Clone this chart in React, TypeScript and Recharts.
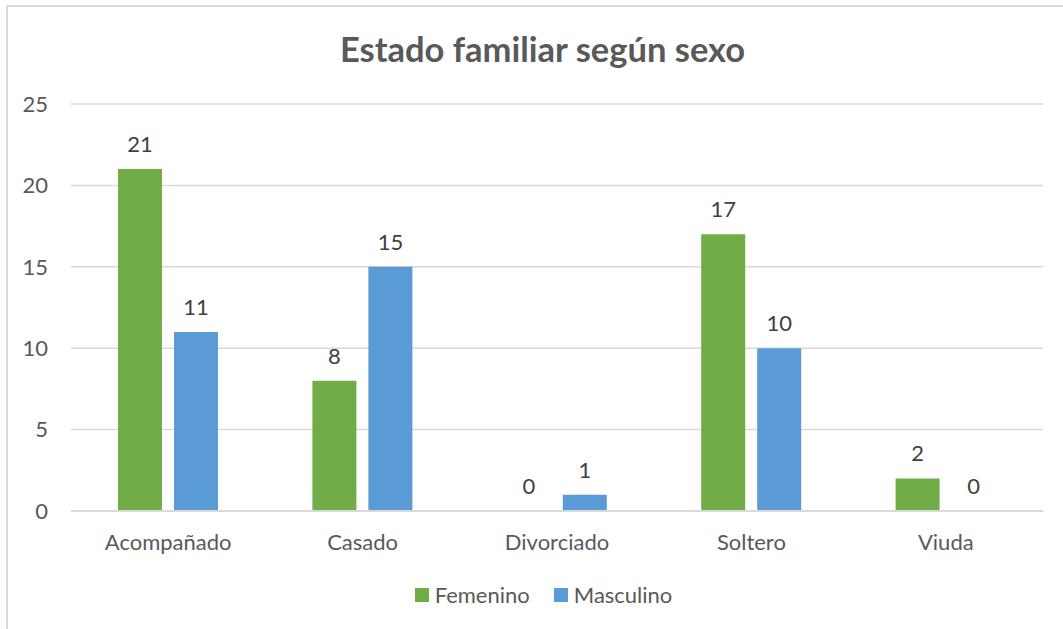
import { BarChart, Bar, XAxis, YAxis, CartesianGrid, Legend, LabelList } from "recharts";

const categories = ["Acompañado", "Casado", "Divorciado", "Soltero", "Viuda"];
const femenino = [21, 8, 0, 17, 2];
const masculino = [11, 15, 1, 10, 0];
const yTicks = [0, 5, 10, 15, 20, 25];

const data = categories.map((estado, i) => ({
  estado,
  femenino: femenino[i],
  masculino: masculino[i],
}));

const FONT = "Lato, 'Open Sans', sans-serif";
const TEXT = "#595959";
const GREEN = "#70AD47";
const BLUE = "#5B9BD5";

function CustomLegend({ payload }: any) {
  return (
    <div style={{ display: "flex", justifyContent: "center", gap: 24, fontFamily: FONT, fontSize: 22, color: TEXT }}>
      {payload?.map((p: any) => (
        <div key={p.value} style={{ display: "flex", alignItems: "center", gap: 6 }}>
          <span style={{ display: "inline-block", width: 14, height: 14, backgroundColor: p.color }} />
          {p.value === "femenino" ? "Femenino" : "Masculino"}
        </div>
      ))}
    </div>
  );
}

export default function App() {
  return (
    <div style={{ position: "absolute", left: 0, top: 0, width: 1063, height: 629, overflow: "hidden", background: "#fff" }}>
      <div
        style={{
          position: "absolute", left: 6, top: 5, width: 1100, height: 700,
          border: "2px solid #d9d9d9", boxSizing: "border-box",
        }}
      />
      <div
        style={{
          position: "absolute", left: 0, top: 28, width: 1085, textAlign: "center",
          fontFamily: FONT, fontWeight: 700, fontSize: 34.5, color: TEXT,
        }}
      >
        Estado familiar según sexo
      </div>
      <div style={{ position: "absolute", left: 0, top: 0 }}>
        <BarChart
          width={1063}
          height={629}
          data={data}
          margin={{ top: 104, right: 20, left: 11, bottom: 78 }}
          barGap={12}
          barSize={44}
        >
          <CartesianGrid vertical={false} stroke="#d9d9d9" strokeWidth={1.5} />
          <XAxis
            dataKey="estado"
            height={40}
            axisLine={{ stroke: "#d9d9d9", strokeWidth: 2 }}
            tickLine={false}
            tickMargin={17}
            tick={{ fontSize: 22, fill: TEXT, fontFamily: FONT }}
          />
          <YAxis
            width={60}
            domain={[0, 25]}
            ticks={yTicks}
            axisLine={false}
            tickLine={false}
            tickMargin={17}
            tick={{ fontSize: 22, fill: TEXT, fontFamily: FONT }}
          />
          <Legend
            content={CustomLegend}
            verticalAlign="middle"
            align="center"
            wrapperStyle={{ top: 581, left: 0, width: 1087 }}
          />
          <Bar dataKey="femenino" fill={GREEN} minPointSize={0.05} isAnimationActive={false}>
            <LabelList dataKey="femenino" position="top" offset={17} style={{ fontSize: 22, fill: "#404040", fontFamily: FONT }} />
          </Bar>
          <Bar dataKey="masculino" fill={BLUE} minPointSize={0.05} isAnimationActive={false}>
            <LabelList dataKey="masculino" position="top" offset={17} style={{ fontSize: 22, fill: "#404040", fontFamily: FONT }} />
          </Bar>
        </BarChart>
      </div>
    </div>
  );
}
